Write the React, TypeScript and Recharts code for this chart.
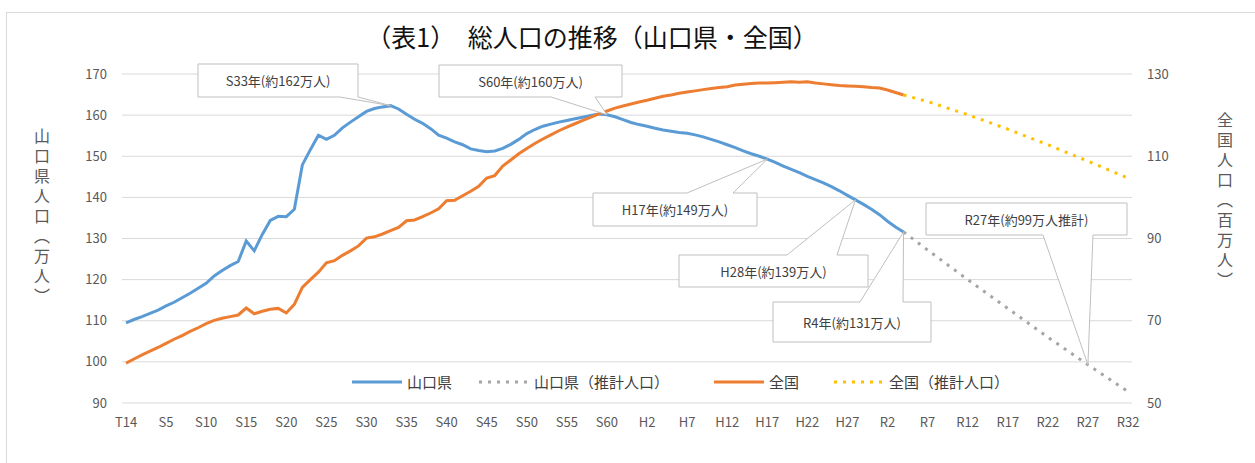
import React from "react";
import {
	CartesianGrid,
	Legend,
	Line,
	LineChart,
	ReferenceDot,
	XAxis,
	YAxis,
} from "recharts";

document.body.style.margin = "0";

const FONT = "'Noto Sans CJK JP', 'Noto Sans', sans-serif";

// 1925 (T14) .. 2050 (R32), one category per year
const years = Array.from({ length: 126 }, (_, i) => 1925 + i);

// 山口県 actual population (万人), 1925-2022
const yamaguchi = [
	109.5, 110.3, 111.0, 111.8, 112.6, 113.6, 114.5, 115.6, 116.7, 117.9,
	119.1, 120.9, 122.2, 123.4, 124.4, 129.4, 127.0, 131.0, 134.4, 135.4,
	135.3, 137.1, 147.9, 151.6, 155.1, 154.1, 155.1, 156.9, 158.3, 159.6,
	160.9, 161.6, 162.0, 162.3, 161.5, 160.2, 159.0, 158.0, 156.7, 155.1,
	154.4, 153.5, 152.8, 151.8, 151.4, 151.1, 151.3, 151.9, 152.9, 154.1,
	155.5, 156.5, 157.3, 157.8, 158.3, 158.7, 159.1, 159.5, 159.9, 160.3,
	160.1, 159.6, 158.9, 158.2, 157.7, 157.3, 156.8, 156.4, 156.1, 155.8,
	155.6, 155.2, 154.7, 154.1, 153.5, 152.8, 152.1, 151.3, 150.6, 150.0,
	149.3, 148.5, 147.6, 146.8, 146.0, 145.1, 144.3, 143.5, 142.6, 141.6,
	140.5, 139.4, 138.3, 137.1, 135.8, 134.2, 132.8, 131.6,
];

// 全国 actual population (百万人), 1925-2022
const national = [
	59.7, 60.7, 61.7, 62.6, 63.5, 64.5, 65.5, 66.4, 67.4, 68.3,
	69.3, 70.1, 70.6, 71.0, 71.4, 73.1, 71.7, 72.3, 72.8, 73.0,
	71.9, 74.0, 78.1, 80.0, 81.8, 84.1, 84.6, 85.9, 87.0, 88.2,
	90.1, 90.4, 91.1, 91.9, 92.7, 94.3, 94.5, 95.3, 96.2, 97.2,
	99.2, 99.3, 100.4, 101.5, 102.7, 104.7, 105.3, 107.6, 109.1, 110.6,
	111.9, 113.1, 114.2, 115.2, 116.2, 117.1, 117.9, 118.7, 119.5, 120.3,
	121.0, 121.7, 122.2, 122.7, 123.2, 123.6, 124.1, 124.6, 124.9, 125.3,
	125.6, 125.9, 126.2, 126.5, 126.7, 126.9, 127.3, 127.5, 127.7, 127.8,
	127.8, 127.9, 128.0, 128.1, 128.0, 128.1, 127.8, 127.6, 127.4, 127.2,
	127.1, 127.0, 126.9, 126.7, 126.6, 126.1, 125.5, 124.9,
];

// projections (推計人口)
const projYears = [2022, 2025, 2030, 2035, 2040, 2045, 2050];
const yamaguchiProj = [131.6, 127.2, 120.0, 113.0, 106.0, 99.3, 92.8];
const nationalProj = [124.9, 123.3, 120.1, 116.6, 112.8, 108.8, 104.7];

const leftTicks = [90, 100, 110, 120, 130, 140, 150, 160, 170];
const rightTicks = [50, 70, 90, 110, 130];

function eraLabel(y: number) {
	if (y <= 1925) return "T" + (y - 1911);
	if (y <= 1988) return "S" + (y - 1925);
	if (y <= 2018) return "H" + (y - 1988);
	return "R" + (y - 2018);
}

const data = years.map((y, i) => {
	const p = projYears.indexOf(y);
	return {
		label: eraLabel(y),
		yamaguchi: i < yamaguchi.length ? yamaguchi[i] : null,
		national: i < national.length ? national[i] : null,
		yamaguchiProj: p >= 0 ? yamaguchiProj[p] : null,
		nationalProj: p >= 0 ? nationalProj[p] : null,
	};
});

const legendItems = [
	{ name: "山口県", color: "#5b9bd5", dash: undefined, width: 127 },
	{ name: "山口県（推計人口）", color: "#a5a5a5", dash: "3 6", width: 235 },
	{ name: "全国", color: "#ed7d31", dash: undefined, width: 120 },
	{ name: "全国（推計人口）", color: "#ffc000", dash: "3 6", width: 190 },
];

type Box = { x: number; y: number; w: number; h: number };
type CalloutDef = {
	year: number;
	value: number;
	text: string;
	box: Box;
	side: "top" | "bottom";
	a: number;
	b: number;
};

const callouts: CalloutDef[] = [
	{ year: 1958, value: 162.3, text: "S33年(約162万人)", box: { x: 198, y: 64, w: 160, h: 33 }, side: "bottom", a: 340, b: 358 },
	{ year: 1985, value: 160.1, text: "S60年(約160万人)", box: { x: 439, y: 65, w: 183, h: 32 }, side: "bottom", a: 551, b: 595 },
	{ year: 2005, value: 149.3, text: "H17年(約149万人)", box: { x: 593, y: 193, w: 164, h: 33 }, side: "top", a: 687, b: 733 },
	{ year: 2016, value: 139.4, text: "H28年(約139万人)", box: { x: 679, y: 255, w: 189, h: 32 }, side: "top", a: 787, b: 837 },
	{ year: 2022, value: 131.6, text: "R4年(約131万人)", box: { x: 773, y: 302, w: 158, h: 40 }, side: "top", a: 860, b: 903 },
	{ year: 2045, value: 99.3, text: "R27年(約99万人推計)", box: { x: 926, y: 203, w: 201, h: 32 }, side: "bottom", a: 1043, b: 1093 },
];

function calloutPath(c: CalloutDef, cx: number, cy: number) {
	const { x, y, w, h } = c.box;
	if (c.side === "bottom") {
		return `M${x},${y} H${x + w} V${y + h} H${c.b} L${cx},${cy} L${c.a},${y + h} H${x} Z`;
	}
	return `M${x},${y} H${c.a} L${cx},${cy} L${c.b},${y} H${x + w} V${y + h} H${x} Z`;
}

function renderCallout(c: CalloutDef) {
	return (props: any) => {
		const { cx, cy } = props;
		if (cx == null || cy == null) return <g />;
		return (
			<g>
				<path d={calloutPath(c, cx, cy)} fill='#ffffff' stroke='#bfbfbf' strokeWidth={1} />
				<text
					x={c.box.x + c.box.w / 2}
					y={c.box.y + c.box.h / 2}
					textAnchor='middle'
					dominantBaseline='central'
					fontSize={13}
					fontFamily={FONT}
					fill='#404040'
				>
					{c.text}
				</text>
			</g>
		);
	};
}

function ChartLegend() {
	return (
		<div style={{ display: "flex", alignItems: "center", fontFamily: FONT, fontSize: 15, color: "#404040" }}>
			{legendItems.map((item) => (
				<div key={item.name} style={{ display: "flex", alignItems: "center", width: item.width }}>
					<svg width={52} height={8} style={{ marginRight: 4 }}>
						<line
							x1={1}
							y1={4}
							x2={51}
							y2={4}
							stroke={item.color}
							strokeWidth={3}
							strokeDasharray={item.dash}
						/>
					</svg>
					<span style={{ whiteSpace: "nowrap" }}>{item.name}</span>
				</div>
			))}
		</div>
	);
}

const tickStyle = { fill: "#595959", fontSize: 13, fontFamily: FONT };

export default function App() {
	return (
		<div style={{ position: "relative", width: 1255, height: 463, background: "#ffffff", overflow: "hidden" }}>
			<div
				style={{
					position: "absolute",
					left: 6,
					top: 12,
					width: 1300,
					height: 500,
					border: "1px solid #d9d9d9",
				}}
			/>
			<div
				style={{
					position: "absolute",
					left: 0,
					width: 1184,
					top: 18,
					textAlign: "center",
					fontFamily: FONT,
					fontSize: 25,
					color: "#111111",
					whiteSpace: "pre",
				}}
			>
				（表1）　総人口の推移（山口県・全国）
			</div>
			<div
				style={{
					position: "absolute",
					left: 30,
					top: 128,
					writingMode: "vertical-rl",
					fontFamily: FONT,
					fontSize: 16,
					letterSpacing: 4,
					color: "#595959",
				}}
			>
				山口県人口（万人）
			</div>
			<div
				style={{
					position: "absolute",
					left: 1213,
					top: 112,
					writingMode: "vertical-rl",
					fontFamily: FONT,
					fontSize: 16,
					letterSpacing: 4,
					color: "#595959",
				}}
			>
				全国人口（百万人）
			</div>
			<div style={{ position: "absolute", left: 0, top: 0 }}>
				<LineChart
					width={1255}
					height={463}
					data={data}
					margin={{ top: 74, right: 63, bottom: 30, left: 62 }}
				>
					<CartesianGrid vertical={false} stroke='#d9d9d9' yAxisId='left' />
					<XAxis
						dataKey='label'
						interval={4}
						tickLine={false}
						axisLine={false}
						height={30}
						tickMargin={9}
						padding={{ left: 4, right: 4 }}
						tick={tickStyle}
					/>
					<YAxis
						yAxisId='left'
						domain={[90, 170]}
						ticks={leftTicks}
						width={60}
						tickLine={false}
						axisLine={false}
						tickMargin={9}
						tick={tickStyle}
					/>
					<YAxis
						yAxisId='right'
						orientation='right'
						domain={[50, 130]}
						ticks={rightTicks}
						width={60}
						tickLine={false}
						axisLine={false}
						tickMargin={9}
						tick={tickStyle}
					/>
					<Legend
						layout='horizontal'
						align='center'
						verticalAlign='middle'
						content={() => <ChartLegend />}
						wrapperStyle={{ left: 351, top: 371, width: "auto" }}
					/>
					<Line
						yAxisId='left'
						dataKey='yamaguchi'
						name='山口県'
						stroke='#5b9bd5'
						strokeWidth={3}
						dot={false}
						isAnimationActive={false}
					/>
					<Line
						yAxisId='left'
						dataKey='yamaguchiProj'
						name='山口県（推計人口）'
						stroke='#a5a5a5'
						strokeWidth={3}
						strokeDasharray='3 6'
						dot={false}
						connectNulls
						isAnimationActive={false}
					/>
					<Line
						yAxisId='right'
						dataKey='national'
						name='全国'
						stroke='#ed7d31'
						strokeWidth={3}
						dot={false}
						isAnimationActive={false}
					/>
					<Line
						yAxisId='right'
						dataKey='nationalProj'
						name='全国（推計人口）'
						stroke='#ffc000'
						strokeWidth={3}
						strokeDasharray='3 6'
						dot={false}
						connectNulls
						isAnimationActive={false}
					/>
					{callouts.map((c) => (
						<ReferenceDot
							key={c.text}
							yAxisId='left'
							x={eraLabel(c.year)}
							y={c.value}
							r={1}
							ifOverflow='visible'
							shape={renderCallout(c)}
						/>
					))}
				</LineChart>
			</div>
		</div>
	);
}
